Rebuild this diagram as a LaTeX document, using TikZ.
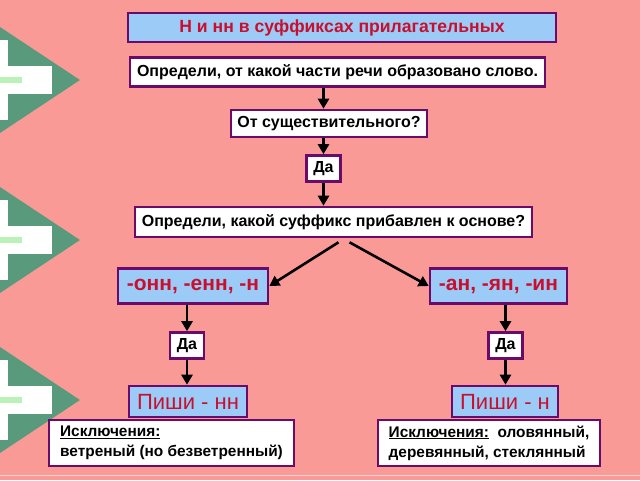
\documentclass[tikz,border=0pt]{standalone}
\usepackage{fontspec}
\setmainfont{Liberation Sans}
\usetikzlibrary{arrows.meta,positioning}
\definecolor{slidepink}{HTML}{FA9A97}
\definecolor{framepurple}{HTML}{6A0A6A}
\definecolor{headblue}{HTML}{9CCBF7}
\definecolor{headred}{HTML}{C8102E}
\definecolor{arrowgreen}{HTML}{5A9A7C}
\definecolor{stripegreen}{HTML}{B8F2B4}

\begin{document}
\begin{tikzpicture}[x=1pt, y=-1pt,
    q_box/.style={draw=framepurple, fill=white, line width=2.6pt, inner sep=0pt, font=\fontsize{16}{19}\selectfont\bfseries, text=black},
    head_box/.style={q_box, fill=headblue, text=headred, font=\fontsize{22}{26}\selectfont},
    yes_box/.style={q_box, minimum width=34pt, minimum height=26pt},
    exc_box/.style={q_box, align=left, minimum width=#1, minimum height=46pt, font=\fontsize{15.4}{20}\selectfont\bfseries},
    trans/.style={-{Triangle[length=10pt,width=11pt]}, line width=2.6pt, black}
]
    \useasboundingbox (0,0) rectangle (640,480);
    \fill[slidepink] (0,0) rectangle (640,480);
    \draw[line width=1.5pt, white!55!slidepink] (0,475.5) -- (640,475.5);

    % Side marks
    \begin{scope}
    \clip (0,0) rectangle (640,480);
    \foreach \apex in {80,240,400} {
        \fill[arrowgreen] (0,\apex-53) -- (80,\apex) -- (0,\apex+53) -- cycle;
        \fill[white] (0,\apex-40) rectangle (8,\apex+40);
        \fill[white] (0,\apex-14) rectangle (52,\apex+14);
        \fill[stripegreen] (0,\apex-3) rectangle (22,\apex+3);
    }
    \end{scope}

    % Nodes
    \node[head_box, font=\fontsize{17.6}{20}\selectfont\bfseries, minimum width=428pt, minimum height=29pt] (title) at (342,27.5) {Н и нн в суффиксах прилагательных};

    \node[q_box, minimum width=415pt, minimum height=29pt] (origin) at (337.5,72) {Определи, от какой части речи образовано слово.};

    \node[q_box, minimum width=196pt, minimum height=27pt] (noun) at (329,123.5) {От существительного?};

    \node[yes_box] (yes_top) at (323.5,168.5) {Да};

    \node[q_box, minimum width=397pt, minimum height=30pt] (suffix) at (333.5,222) {Определи, какой суффикс прибавлен к основе?};

    \node[head_box, font=\fontsize{21}{25}\selectfont\bfseries, minimum width=150pt, minimum height=35pt] (suf_nn) at (193,286) {-онн, -енн, -н};
    \node[head_box, font=\fontsize{21}{25}\selectfont\bfseries, minimum width=137pt, minimum height=35pt] (suf_n) at (498.5,286) {-ан, -ян, -ин};

    \node[yes_box] (yes_nn) at (187,345.5) {Да};
    \node[yes_box] (yes_n) at (505.5,345.5) {Да};

    \node[head_box, minimum width=118pt, minimum height=31pt] (write_nn) at (188,401.5) {Пиши - нн};
    \node[head_box, minimum width=106pt, minimum height=31pt] (write_n) at (505,401.5) {Пиши - н};

    \node[exc_box=245pt] (except_nn) at (171.5,443) {\underline{Исключения:}\\ветреный (но безветренный)};
    \node[exc_box=222pt] (except_n) at (489,443) {\underline{Исключения:}\ \ оловянный,\\деревянный, стеклянный};

    % Transitions
    \draw[trans] (yes_top |- origin.south) -- (yes_top |- noun.north);
    \draw[trans] (yes_top |- noun.south) -- (yes_top.north);
    \draw[trans] (yes_top.south) -- (yes_top |- suffix.north);
    \draw[trans] ([xshift=5pt,yshift=-4pt]suffix.south) -- (suf_nn.east);
    \draw[trans] ([xshift=16pt,yshift=-4pt]suffix.south) -- (suf_n.west);
    \draw[trans] (yes_nn |- suf_nn.south) -- (yes_nn.north);
    \draw[trans] (yes_nn.south) -- (yes_nn.south |- write_nn.north);
    \draw[trans] (yes_n |- suf_n.south) -- (yes_n.north);
    \draw[trans] (yes_n.south) -- (yes_n.south |- write_n.north);
\end{tikzpicture}
\end{document}
